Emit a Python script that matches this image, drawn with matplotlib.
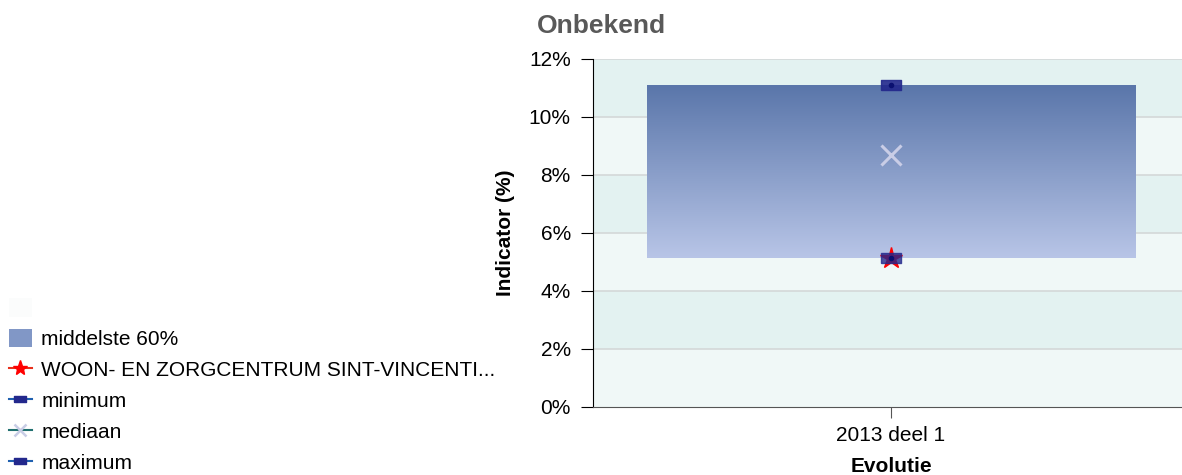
import matplotlib.pyplot as plt
import numpy as np
from matplotlib.lines import Line2D
from matplotlib.patches import Patch
from matplotlib.ticker import FuncFormatter
from matplotlib.colors import LinearSegmentedColormap

plt.rcParams['font.family'] = ['Liberation Sans', 'DejaVu Sans']

categories = ['2013 deel 1']
p20 = [5.15]
p80 = [11.1]
minimum = [5.15]
median = [8.7]
maximum = [11.1]
instelling = [5.15]
instelling_name = 'WOON- EN ZORGCENTRUM SINT-VINCENTI...'
yticks = [0, 2, 4, 6, 8, 10, 12]

fig = plt.figure(figsize=(11.82, 4.75), dpi=100)
ax = fig.add_axes([593 / 1182, 1 - 407 / 475, 596 / 1182, 348 / 475])

x = np.arange(len(categories))

# alternating background bands
for i in range(len(yticks) - 1):
    c = '#f0f8f7' if i % 2 == 0 else '#e3f2f1'
    ax.axhspan(yticks[i], yticks[i + 1], color=c, zorder=0, lw=0)
for t in yticks[1:]:
    ax.axhline(t, color='#d4d8d8', lw=1.2, zorder=1)

# middle 60% box with vertical gradient
bars = ax.bar(x, np.array(p80) - np.array(p20), bottom=p20, width=0.82,
              color='none', edgecolor='none', zorder=2)
grad = np.linspace(0, 1, 256).reshape(-1, 1)
cmap = LinearSegmentedColormap.from_list('box', ['#b8c5e7', '#5a76aa'])
for b in bars:
    im = ax.imshow(grad, cmap=cmap, aspect='auto', origin='lower',
                   extent=[b.get_x(), b.get_x() + b.get_width(), b.get_y(), b.get_y() + b.get_height()],
                   zorder=2)
    im.set_clip_path(b)
ax.set_xlim(-0.5, 0.5)
ax.set_ylim(0, 12)

rect = [(-1, -0.5), (1, -0.5), (1, 0.5), (-1, 0.5), (-1, -0.5)]
ax.plot(x, maximum, ls='none', marker=rect, ms=15, color='#23288c', alpha=0.9, zorder=4)
ax.plot(x, maximum, ls='none', marker='o', ms=3, color='#0a1070', zorder=5)
ax.plot(x, median, ls='none', marker='x', ms=15, mew=2.2, color='#c9cde6', zorder=4)
ax.plot(x, instelling, ls='none', marker='*', ms=16, color='#ff0000', zorder=4)
ax.plot(x, minimum, ls='none', marker=rect, ms=15, color='#23288c', alpha=0.8, zorder=5)
ax.plot(x, minimum, ls='none', marker='o', ms=3, color='#0a1070', zorder=6)

ax.set_yticks(yticks)
ax.yaxis.set_major_formatter(FuncFormatter(lambda v, p: '%d%%' % v))
ax.set_xticks(x)
ax.set_xticklabels(categories)
ax.tick_params(axis='both', labelsize=15, colors='black', direction='out', length=9, pad=7)
ax.tick_params(axis='x', colors='#555555', labelcolor='black', length=8, pad=6)
for s in ['top', 'right']:
    ax.spines[s].set_visible(False)
ax.spines['left'].set_color('black')
ax.spines['bottom'].set_color('#555555')

ax.set_ylabel('Indicator (%)', fontsize=15, fontweight='bold', labelpad=10)
ax.set_xlabel('Evolutie', fontsize=15, fontweight='bold', labelpad=8)
fig.text(601 / 1182, 1 - 26 / 475, 'Onbekend', fontsize=19, fontweight='bold',
         color='#595959', ha='center', va='center')

handles = [
    Patch(facecolor='#fbfcfc', edgecolor='none'),
    Patch(facecolor='#8197c6', edgecolor='none'),
    Line2D([], [], color='#e8301c', marker='*', ms=11, mfc='red', mec='red'),
    Line2D([], [], color='#2060b0', marker=rect, ms=9, mfc='#23288c', mec='#23288c'),
    Line2D([], [], color='#207070', marker='x', ms=8, mew=1.8, mec='#c9cde6'),
    Line2D([], [], color='#2060b0', marker=rect, ms=9, mfc='#23288c', mec='#23288c'),
]
labels = ['', 'middelste 60%', instelling_name, 'minimum', 'mediaan', 'maximum']
fig.legend(handles, labels, loc='lower left', bbox_to_anchor=(0.004, -0.004),
           frameon=False, fontsize=15, handlelength=1.1, handleheight=1.0,
           handletextpad=0.45, labelspacing=0.5, borderaxespad=0.0, borderpad=0.2)

fig.savefig('out.png', dpi=100)
